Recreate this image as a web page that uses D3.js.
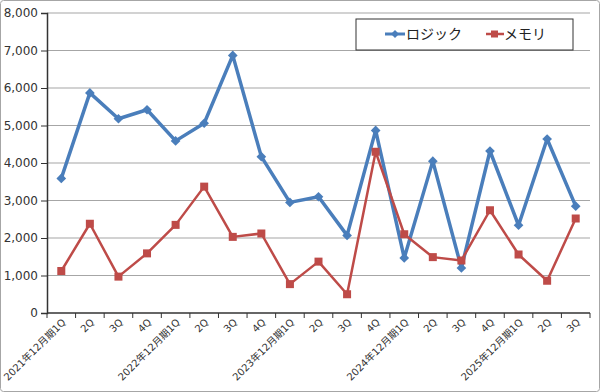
<!DOCTYPE html>
<html><head><meta charset="utf-8">
<script src="https://cdn.jsdelivr.net/npm/d3@7"></script>
<style>body{margin:0;background:#fff;} svg{display:block;}</style>
</head><body><svg id="c" width="600" height="392"></svg>
<script>
const categories = ["2021年12月期1Q","2Q","3Q","4Q","2022年12月期1Q","2Q","3Q","4Q","2023年12月期1Q","2Q","3Q","4Q","2024年12月期1Q","2Q","3Q","4Q","2025年12月期1Q","2Q","3Q"];
const logic = [3590,5870,5180,5420,4590,5060,6870,4170,2950,3100,2070,4870,1470,4050,1200,4320,2340,4640,2850];
const memory = [1120,2380,970,1590,2350,3370,2030,2120,770,1370,500,4300,2100,1490,1400,2740,1560,860,2520];
const yTicks = [0,1000,2000,3000,4000,5000,6000,7000,8000];
const seriesNames = ["ロジック","メモリ"];

const svg = d3.select("#c");
const font = "'DejaVu Sans', 'Noto Sans CJK JP', sans-serif";
svg.append("rect").attr("x",0.5).attr("y",0.5).attr("width",599).attr("height",391).attr("rx",3)
  .attr("fill","#fff").attr("stroke","#a6a6a6");

const L=47,R=590,T=13,B=313;
const x = d3.scaleBand().domain(d3.range(categories.length)).range([L,R]);
const y = d3.scaleLinear().domain([0,8000]).range([B,T]);

// gridlines
svg.append("g").selectAll("line").data(yTicks.slice(1)).join("line")
  .attr("x1",L).attr("x2",R).attr("y1",d=>y(d)).attr("y2",d=>y(d))
  .attr("stroke","#a6a6a6").attr("stroke-width",1.2);

// y axis
const ya = svg.append("g").attr("transform",`translate(${L},0)`)
  .call(d3.axisLeft(y).tickValues(yTicks).tickSize(6).tickPadding(3).tickFormat(d3.format(",")));
ya.select(".domain").attr("stroke","#333").attr("stroke-width",1.5);
ya.selectAll(".tick line").attr("stroke","#333");
ya.selectAll("text").attr("font-family",font).attr("font-size",12).attr("fill","#333");

// x axis
const xa = svg.append("g").attr("transform",`translate(0,${B})`);
xa.append("line").attr("x1",L).attr("x2",R).attr("y1",0).attr("y2",0).attr("stroke","#333").attr("stroke-width",1.5);
xa.selectAll("line.t").data(d3.range(categories.length+1)).join("line").attr("class","t")
  .attr("x1",d=>L+d*x.step()).attr("x2",d=>L+d*x.step()).attr("y1",0).attr("y2",5).attr("stroke","#333");
xa.selectAll("text").data(categories).join("text")
  .attr("transform",(d,i)=>`translate(${x(i)+x.bandwidth()/2+5},${10}) rotate(-45)`)
  .attr("text-anchor","end").attr("font-family",font).attr("font-size",10).attr("fill","#333")
  .text(d=>d);

const cx = i => x(i)+x.bandwidth()/2;
const line = d3.line().x((d,i)=>cx(i)).y(d=>y(d));
svg.append("path").datum(logic).attr("d",line).attr("fill","none").attr("stroke","#4A7EBB").attr("stroke-width",3.5).attr("stroke-linejoin","round");
svg.append("path").datum(memory).attr("d",line).attr("fill","none").attr("stroke","#BE4B48").attr("stroke-width",2.5).attr("stroke-linejoin","round");

const diamond = d3.symbol().type(d3.symbolDiamond2).size(60);
svg.append("g").selectAll("path").data(logic).join("path")
  .attr("transform",(d,i)=>`translate(${cx(i)},${y(d)})`).attr("d",diamond).attr("fill","#4A7EBB");
svg.append("g").selectAll("rect").data(memory).join("rect")
  .attr("x",(d,i)=>cx(i)-4).attr("y",d=>y(d)-4).attr("width",8).attr("height",8).attr("fill","#BE4B48");

// legend
const lg = svg.append("g");
lg.append("rect").attr("x",356).attr("y",19).attr("width",217).attr("height",31).attr("fill","#fff").attr("stroke","#333").attr("stroke-width",1);
lg.append("line").attr("x1",385).attr("x2",405).attr("y1",34).attr("y2",34).attr("stroke","#4A7EBB").attr("stroke-width",3);
lg.append("path").attr("transform","translate(395,34)").attr("d",d3.symbol().type(d3.symbolDiamond2).size(40)).attr("fill","#4A7EBB");
lg.append("text").attr("x",406).attr("y",39).attr("font-family",font).attr("font-size",14).attr("fill","#222").text(seriesNames[0]);
lg.append("line").attr("x1",486).attr("x2",504).attr("y1",34).attr("y2",34).attr("stroke","#BE4B48").attr("stroke-width",2.5);
lg.append("rect").attr("x",491).attr("y",30.5).attr("width",7).attr("height",7).attr("fill","#BE4B48");
lg.append("text").attr("x",504).attr("y",39).attr("font-family",font).attr("font-size",14).attr("fill","#222").text(seriesNames[1]);
</script></body></html>
